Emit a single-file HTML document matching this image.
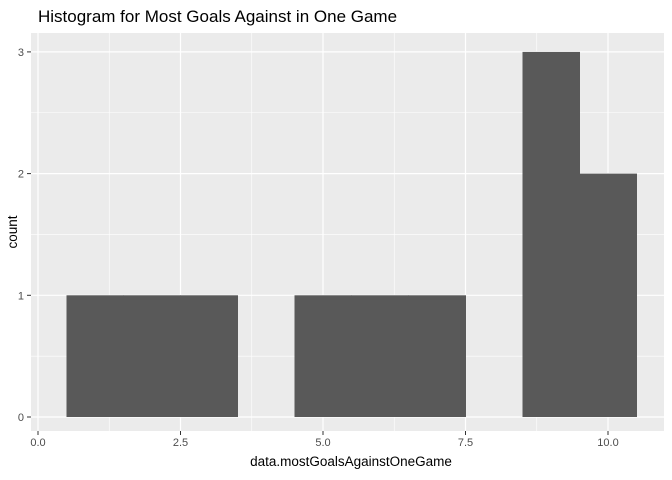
<!DOCTYPE html>
<html><head><meta charset="utf-8"><style>
body{margin:0;background:#fff;}
svg{display:block;font-family:"Liberation Sans",Arial,sans-serif;}
</style></head><body>
<svg id="chart" width="672" height="480">
<text x="38" y="22" font-size="17" fill="#000">Histogram for Most Goals Against in One Game</text>
<rect x="31" y="33" width="633" height="398" fill="#ebebeb"/>
<g id="grid"></g>
<g id="bars"></g>
<g id="axes"></g>
<text x="351" y="466" font-size="13.5" text-anchor="middle" fill="#000">data.mostGoalsAgainstOneGame</text>
<text transform="translate(17,232) rotate(-90)" font-size="13.5" text-anchor="middle" fill="#000">count</text>
</svg>
<script>
const binCenters=[1,2,3,5,6,7,9,10];
const binCounts=[1,1,1,1,1,1,3,2];
const xTicks=[0,2.5,5,7.5,10];
const xTickLabels=["0.0","2.5","5.0","7.5","10.0"];
const yTicks=[0,1,2,3];
const yTickLabels=["0","1","2","3"];
const binWidth=1;
const NS="http://www.w3.org/2000/svg";
const L=31,R=664,T=33,B=431;
function xs(v){return 38+v*57.0;}
function ys(v){return 417-v*121.7;}
function mk(tag,attrs,parent){const e=document.createElementNS(NS,tag);for(const k in attrs)e.setAttribute(k,attrs[k]);parent.appendChild(e);return e;}
const grid=document.getElementById('grid'),bars=document.getElementById('bars'),axes=document.getElementById('axes');
for(let i=0;i<xTicks.length-1;i++){const v=(xTicks[i]+xTicks[i+1])/2;const l=mk('line',{x1:xs(v),x2:xs(v),y1:T,y2:B,stroke:'#fff','stroke-width':0.6},grid);

}
for(let i=0;i<yTicks.length-1;i++){const v=(yTicks[i]+yTicks[i+1])/2;const l=mk('line',{x1:L,x2:R,y1:ys(v),y2:ys(v),stroke:'#fff','stroke-width':0.6},grid);

}
xTicks.forEach((v,i)=>{const l=mk('line',{x1:xs(v),x2:xs(v),y1:T,y2:B,stroke:'#fff','stroke-width':1.2},grid);


mk('line',{x1:xs(v),x2:xs(v),y1:B,y2:B+4,stroke:'#333','stroke-width':1},axes);
const t=mk('text',{x:xs(v),y:B+15,'font-size':11,'text-anchor':'middle',fill:'#4d4d4d'},axes);t.textContent=xTickLabels[i];

});
yTicks.forEach((v,i)=>{const l=mk('line',{x1:L,x2:R,y1:ys(v),y2:ys(v),stroke:'#fff','stroke-width':1.2},grid);


mk('line',{x1:L-4,x2:L,y1:ys(v),y2:ys(v),stroke:'#333','stroke-width':1},axes);
const t=mk('text',{x:L-7,y:ys(v)+4,'font-size':11,'text-anchor':'end',fill:'#4d4d4d'},axes);t.textContent=yTickLabels[i];

});
binCenters.forEach((c,i)=>{const x0=xs(c-binWidth/2),x1=xs(c+binWidth/2);const r=mk('rect',{x:x0,y:ys(binCounts[i]),width:x1-x0+0.5,height:ys(0)-ys(binCounts[i]),fill:'#595959'},bars);

});
</script>
</body></html>
